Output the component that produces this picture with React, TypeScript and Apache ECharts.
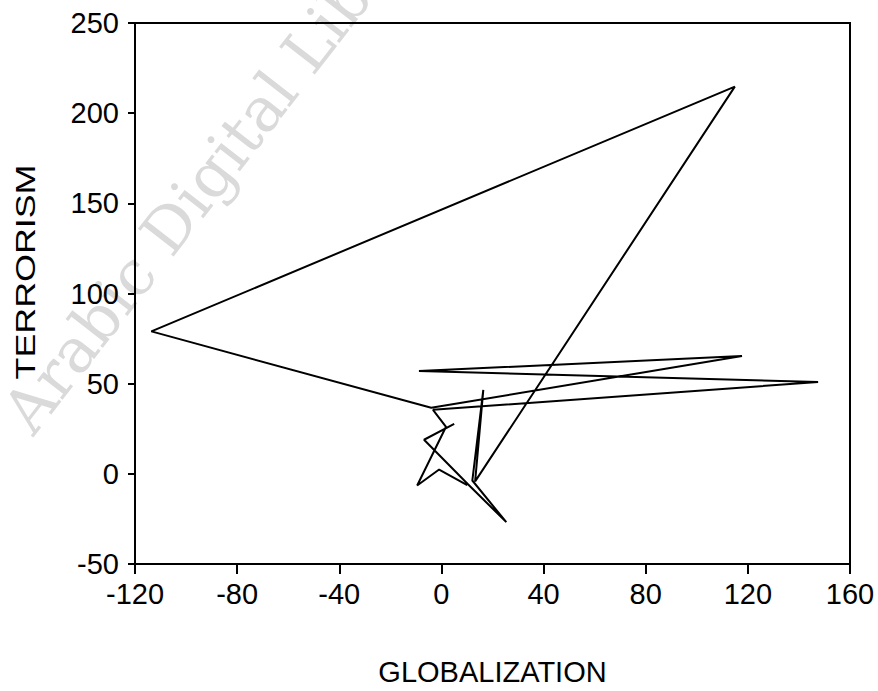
import React, { useEffect, useRef } from "react";
import * as echarts from "echarts";

const globalization = [5.0, -6.8, 10.5, 25.4, 12.1, 16.4, 13.2, 114.9, -113.6, -4.0, 117.7, -8.8, 147.5, -3.3, 1.8, -9.5, -0.9, 10.1];
const terrorism = [27.7, 18.9, -5.9, -26.8, -3.7, 46.5, -4.2, 214.7, 79.0, 36.6, 65.3, 57.0, 50.9, 35.5, 26.1, -6.5, 2.4, -6.2];
const xTicks = { min: -120, max: 160, interval: 40 };
const yTicks = { min: -50, max: 250, interval: 50 };
const xName = "GLOBALIZATION";
const yName = "TERRORISM";
const watermark = "Arabic Digital Library";

export default function App() {
  const ref = useRef<HTMLDivElement>(null);
  useEffect(() => {
    if (!ref.current) return;
    const chart = echarts.init(ref.current, null, { renderer: "svg" });
    const font = "'Liberation Sans', Arial, sans-serif";
    const points = globalization.map((g, i) => [g, terrorism[i]]);
    chart.setOption({
      animation: false,
      backgroundColor: "#ffffff",
      grid: {
        left: 135,
        right: 28,
        top: 23,
        bottom: 124,
        show: true,
        borderColor: "#000",
        borderWidth: 2,
        backgroundColor: "transparent",
      },
      graphic: [
        {
          type: "text",
          x: -8,
          y: 405,
          rotation: Math.PI * 0.29,
          z: -10,
          style: {
            text: watermark,
            fill: "#dadada",
            font: "normal 62px 'DejaVu Serif', serif",
          },
        },
        {
          type: "text",
          x: 25,
          y: 272,
          rotation: Math.PI / 2,
          scaleX: 1.28,
          style: {
            text: yName,
            fill: "#000",
            font: "normal 28px " + font,
            textAlign: "center",
            textVerticalAlign: "middle",
          },
        },
      ],
      xAxis: {
        type: "value",
        min: xTicks.min,
        max: xTicks.max,
        interval: xTicks.interval,
        name: xName,
        nameLocation: "middle",
        nameGap: 93,
        nameTextStyle: { color: "#000", fontSize: 29, fontFamily: font },
        axisLine: { show: true, onZero: false, lineStyle: { color: "#000", width: 2 } },
        axisTick: { show: true, inside: false, length: 10, lineStyle: { color: "#000", width: 2 } },
        axisLabel: { color: "#000", fontSize: 29, fontFamily: font, margin: 15 },
        splitLine: { show: false },
      },
      yAxis: {
        type: "value",
        min: yTicks.min,
        max: yTicks.max,
        interval: yTicks.interval,
        axisLine: { show: true, onZero: false, lineStyle: { color: "#000", width: 2 } },
        axisTick: { show: true, inside: false, length: 7, lineStyle: { color: "#000", width: 2 } },
        axisLabel: { color: "#000", fontSize: 29, fontFamily: font, margin: 16 },
        splitLine: { show: false },
      },
      series: [
        {
          type: "line",
          data: points,
          showSymbol: false,
          symbol: "none",
          lineStyle: { color: "#000", width: 2 },
          z: 5,
        },
      ],
    });
    return () => chart.dispose();
  }, []);
  return (
    <div
      ref={ref}
      style={{ position: "fixed", left: 0, top: 0, width: 878, height: 691 }}
    />
  );
}
